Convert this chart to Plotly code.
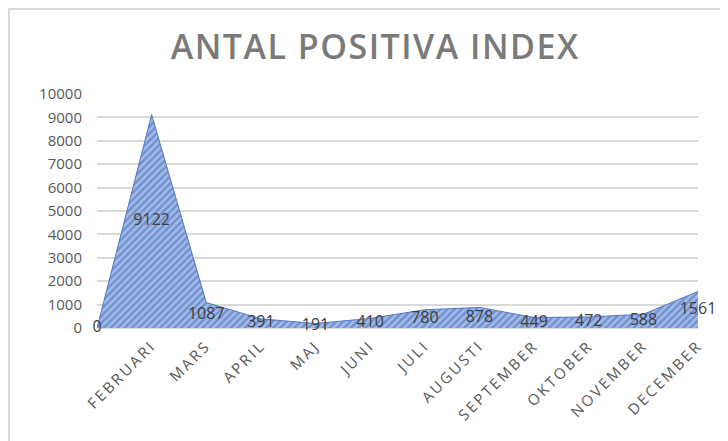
import plotly.graph_objects as go

months = ["", "FEBRUARI", "MARS", "APRIL", "MAJ", "JUNI", "JULI", "AUGUSTI",
          "SEPTEMBER", "OKTOBER", "NOVEMBER", "DECEMBER"]
values = [0, 9122, 1087, 391, 191, 410, 780, 878, 449, 472, 588, 1561]
y_ticks = list(range(0, 10001, 1000))

xs = list(range(len(months)))

fig = go.Figure()
fig.add_trace(go.Scatter(
    x=xs, y=values, mode="lines", fill="tozeroy",
    line=dict(color="#5078c4", width=1),
    fillcolor="#a6bde6",
    fillpattern=dict(shape="/", fgcolor="#3f68ba", bgcolor="#a3bbe6",
                     size=5, solidity=0.5),
    hoverinfo="skip", showlegend=False,
))
fig.add_trace(go.Scatter(
    x=xs, y=[v / 2 for v in values], mode="text",
    text=[str(v) for v in values], textposition="middle center",
    textfont=dict(family="Open Sans", size=16, color="#404040"),
    showlegend=False, hoverinfo="skip", cliponaxis=False,
))

fig.update_layout(
    width=720, height=433,
    margin=dict(l=89, r=30, t=86, b=113),
    paper_bgcolor="white", plot_bgcolor="white",
    title=dict(text="ANTAL POSITIVA INDEX", x=0.51, xanchor="center",
               y=(433 - 39) / 433, yref="container", yanchor="middle",
               font=dict(family="Open Sans", size=34, color="#7a7a7a", weight=600)),
    xaxis=dict(range=[0, 11], tickmode="array", tickvals=xs, ticktext=months,
               tickangle=-45, showgrid=False, zeroline=False, showline=False,
               ticks="", ticklabelstandoff=5, automargin=False,
               tickfont=dict(family="Open Sans", size=15, color="#595959")),
    yaxis=dict(range=[0, 10000], tickmode="array", tickvals=y_ticks,
               ticktext=[str(t) for t in y_ticks], automargin=False,
               showgrid=True, gridcolor="#d9d9d9", gridwidth=1.5,
               zeroline=True, zerolinecolor="#d9d9d9", zerolinewidth=1.5,
               ticks="", ticklabelstandoff=14,
               tickfont=dict(family="Open Sans", size=15, color="#595959")),
    shapes=[dict(type="rect", xref="paper", yref="paper",
                 x0=-88 / 601, x1=1.2, y0=-1, y1=1 + 85 / 234,
                 line=dict(color="#d9d9d9", width=2), layer="below")],
)

post = ("document.querySelectorAll('.xtick text').forEach(function(t){"
        "t.style.letterSpacing='2.5px';});"
        "document.querySelectorAll('.gtitle').forEach(function(t){"
        "t.style.letterSpacing='1.5px';});")
fig.write_html("out.html", post_script=post)
